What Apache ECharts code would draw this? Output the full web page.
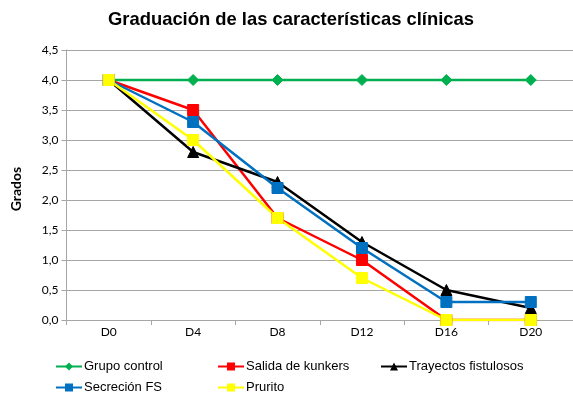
<!DOCTYPE html>
<html>
<head>
<meta charset="utf-8">
<script src="https://cdn.jsdelivr.net/npm/echarts@6/dist/echarts.min.js"></script>
<style>
  html, body { margin: 0; padding: 0; background: #fff; }
  #chart { width: 573px; height: 402px; }
</style>
</head>
<body>
<div id="chart"></div>
<script>
// datos
const dias = ['D0', 'D4', 'D8', 'D12', 'D16', 'D20'];
const grupoControl = [4, 4, 4, 4, 4, 4];
const salidaKunkers = [4, 3.5, 1.7, 1.0, 0, 0];
const trayectosFistulosos = [4, 2.8, 2.3, 1.3, 0.5, 0.2];
const secrecionFS = [4, 3.3, 2.2, 1.2, 0.3, 0.3];
const prurito = [4, 3.0, 1.7, 0.7, 0, 0];

const series = [
  { name: 'Grupo control', data: grupoControl, color: '#00b050', symbol: 'diamond', size: 11 },
  { name: 'Salida de kunkers', data: salidaKunkers, color: '#ff0000', symbol: 'rect', size: 11 },
  { name: 'Trayectos fistulosos', data: trayectosFistulosos, color: '#000000', symbol: 'triangle', size: 11 },
  { name: 'Secreción FS', data: secrecionFS, color: '#0070c0', symbol: 'rect', size: 11 },
  { name: 'Prurito', data: prurito, color: '#ffff00', symbol: 'rect', size: 11 }
];

// posiciones de la leyenda (3 columnas, 2 filas)
const legendPos = [[55, 360], [217, 360], [380, 360], [55, 381], [217, 381]];

const chart = echarts.init(document.getElementById('chart'));
chart.setOption({
  animation: false,
  title: {
    text: 'Graduación de las características clínicas',
    left: 103,
    top: 6,
    textStyle: { fontFamily: 'Liberation Sans', fontSize: 18.4, fontWeight: 'bold', color: '#000' }
  },
  legend: series.map((s, i) => ({
    data: [s.name],
    left: legendPos[i][0],
    top: legendPos[i][1],
    padding: 0,
    itemWidth: 26,
    itemHeight: 10,
    itemGap: 4,
    textStyle: { fontFamily: 'Liberation Sans', fontSize: 13, color: '#000', padding: [0, 0, 0, -3] }
  })),
  grid: { left: 66.5, right: -3.5, top: 50, bottom: 82, containLabel: false },
  xAxis: {
    type: 'category',
    data: dias,
    boundaryGap: true,
    axisLine: { lineStyle: { color: '#a6a6a6', width: 1 } },
    axisTick: { show: true, length: 5, lineStyle: { color: '#a6a6a6' } },
    axisLabel: { fontFamily: 'Lato', fontSize: 12, color: '#000', margin: 6 }
  },
  yAxis: {
    type: 'value',
    min: 0,
    max: 4.5,
    interval: 0.5,
    name: 'Grados',
    nameLocation: 'middle',
    nameGap: 43,
    nameRotate: 90,
    nameTextStyle: { fontFamily: 'Lato', fontSize: 14, fontWeight: 'bold', color: '#000', padding: [0, 0, 0, -8] },
    axisLine: { show: true, lineStyle: { color: '#a6a6a6' } },
    axisTick: { show: true, length: 5, lineStyle: { color: '#a6a6a6' } },
    splitLine: { lineStyle: { color: '#a6a6a6', width: 1 } },
    axisLabel: {
      fontFamily: 'Lato', fontSize: 12, color: '#000', margin: 8,
      formatter: v => v.toFixed(1).replace('.', ',')
    }
  },
  series: series.map(s => ({
    name: s.name,
    type: 'line',
    data: s.data,
    symbol: s.symbol,
    symbolSize: s.size,
    showAllSymbol: true,
    lineStyle: { color: s.color, width: 2.5 },
    itemStyle: { color: s.color, borderColor: s.color },
    emphasis: { disabled: true }
  }))
});
</script>
</body>
</html>
